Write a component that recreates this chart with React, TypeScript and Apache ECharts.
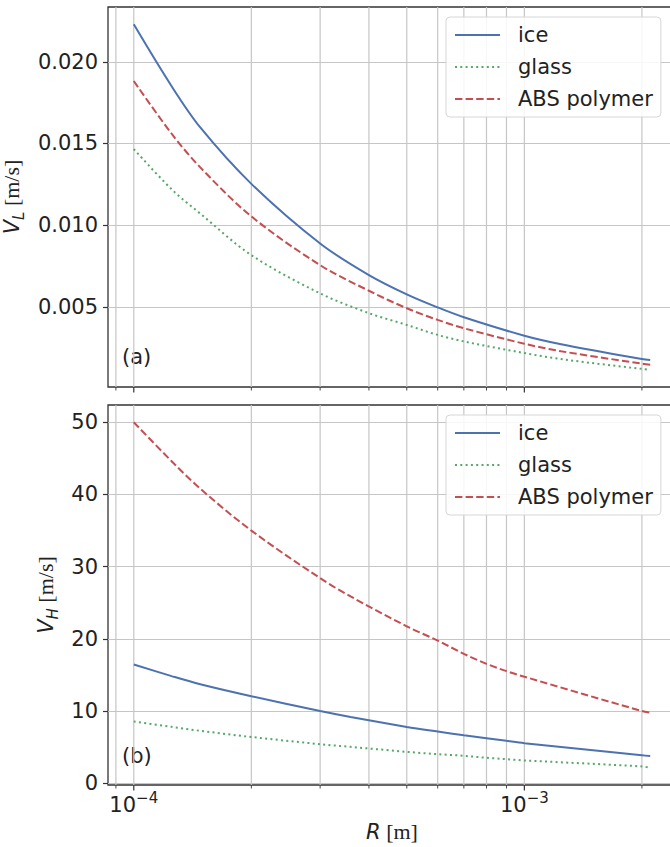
import React, { useEffect, useRef } from "react";
import * as echarts from "echarts";

// ---- data (1.25e-4 values estimated between read points) ----
const rTop = [1e-4, 1.25e-4, 1.48e-4, 2e-4, 3e-4, 4e-4, 5e-4, 6e-4, 7e-4, 1e-3, 1.242e-3, 2e-3, 2.1e-3];
const iceL = [0.02229, 0.0185, 0.01598, 0.01253, 0.00888, 0.00695, 0.00577, 0.00497, 0.00437, 0.00324, 0.00272, 0.00181, 0.00175];
const glassL = [0.01466, 0.0122, 0.01071, 0.00817, 0.00583, 0.00462, 0.0039, 0.00329, 0.00289, 0.00218, 0.00181, 0.00121, 0.00116];
const absL = [0.01882, 0.0156, 0.01354, 0.01054, 0.00756, 0.00599, 0.00492, 0.00421, 0.0037, 0.00275, 0.00229, 0.00153, 0.00147];

const rBot = [1e-4, 1.25e-4, 1.48e-4, 2e-4, 3e-4, 3.59e-4, 5e-4, 6e-4, 7e-4, 8e-4, 9e-4, 1e-3, 2e-3, 2.1e-3];
const iceH = [16.46, 14.85, 13.72, 12.06, 10.01, 9.18, 7.81, 7.17, 6.66, 6.25, 5.88, 5.56, 3.9, 3.77];
const glassH = [8.55, 7.82, 7.27, 6.42, 5.42, 5.05, 4.36, 4.04, 3.81, 3.53, 3.35, 3.17, 2.34, 2.16];
const absH = [50.0, 44.6, 40.8, 35.0, 28.41, 25.88, 21.74, 19.77, 17.93, 16.55, 15.53, 14.76, 10.01, 9.79];

const seriesNames = ["ice", "glass", "ABS polymer"];
const yTicksTop = [0.005, 0.01, 0.015, 0.02];
const yTicksBot = [0, 10, 20, 30, 40, 50];
const xMajor = [1e-4, 1e-3];
const xMinor = [9e-5, 2e-4, 3e-4, 4e-4, 5e-4, 6e-4, 7e-4, 8e-4, 9e-4, 2e-3];

const X_MIN = 8.59e-5;
const X_MAX = 2.445e-3;
const YT_MIN = 0.000103;
const YT_MAX = 0.02335;
const YB_MIN = -0.232;
const YB_MAX = 52.39;

const FONT = "DejaVu Sans";
const C_ICE = "#4C72B0";
const C_GLASS = "#55A868";
const C_ABS = "#C44E52";
const GRID_C = "#c6c6c6";
const SPINE_C = "#333333";

const zip = (xs: number[], ys: number[]) => xs.map((x, i) => [x, ys[i]]);

function gridSeries(xi: number, yBase: number) {
  const data = [
    ...xMajor.map((v) => [v, yBase, 1]),
    ...xMinor.map((v) => [v, yBase, 0]),
  ];
  return {
    type: "custom",
    xAxisIndex: xi,
    yAxisIndex: xi,
    silent: true,
    z: 1,
    data,
    renderItem: (params: any, api: any) => {
      const cs = params.coordSys;
      const px = api.coord([api.value(0), api.value(1)])[0];
      const major = api.value(2) === 1;
      const bottom = cs.y + cs.height;
      return {
        type: "group",
        children: [
          {
            type: "line",
            shape: { x1: px, y1: cs.y, x2: px, y2: bottom },
            style: { stroke: GRID_C, lineWidth: 1.2 },
          },
          {
            type: "line",
            shape: { x1: px, y1: bottom, x2: px, y2: bottom + (major ? 5.5 : 3.5) },
            style: { stroke: SPINE_C, lineWidth: major ? 1.2 : 0.9 },
          },
        ],
      };
    },
  };
}

function lineSeries(idx: number, name: string, xs: number[], ys: number[], color: string, type: any) {
  return {
    type: "line",
    name,
    xAxisIndex: idx,
    yAxisIndex: idx,
    data: zip(xs, ys),
    symbol: "none",
    showSymbol: false,
    smooth: 0.33,
    z: 3,
    itemStyle: { color },
    lineStyle: { color, width: 2, type, cap: "butt" },
  };
}

const legendBase = {
  data: seriesNames,
  orient: "vertical",
  left: 446,
  padding: [6, 8, 6, 8],
  itemWidth: 45,
  itemHeight: 14,
  itemGap: 8,
  selectedMode: false,
  itemStyle: { opacity: 0 },
  backgroundColor: "rgba(255,255,255,0.85)",
  borderColor: "#d6d6d6",
  borderWidth: 1,
  borderRadius: 4,
  textStyle: { fontFamily: FONT, fontSize: 21, color: "#222", lineHeight: 24, padding: [0, 0, 0, 13] },
};

const yNameRich = {
  v: { fontFamily: FONT, fontStyle: "italic", fontSize: 21, color: "#222", verticalAlign: "bottom", padding: [0, 0, 4, 0] },
  s: { fontFamily: FONT, fontStyle: "italic", fontSize: 15, color: "#222", verticalAlign: "bottom" },
  u: { fontFamily: "Liberation Serif", fontSize: 22, color: "#222", verticalAlign: "bottom", padding: [0, 0, 4, 0] },
};

function yAxis(idx: number, min: number, max: number, ticks: number[], fmt: (v: number) => string, name: string, gap: number) {
  return {
    gridIndex: idx,
    type: "value",
    min,
    max,
    axisLine: { show: false },
    axisTick: { show: true, length: 5, lineStyle: { color: SPINE_C, width: 1.2 }, customValues: ticks },
    axisLabel: { customValues: ticks, formatter: fmt, fontFamily: FONT, fontSize: 21, color: "#222", margin: 10 },
    splitLine: { show: true, lineStyle: { color: GRID_C, width: 1.2 } },
    name,
    nameLocation: "middle",
    nameRotate: 90,
    nameGap: gap,
    nameTextStyle: { rich: yNameRich },
  };
}

const gridBase = {
  left: 108,
  width: 568,
  height: 380,
  show: true,
  borderColor: SPINE_C,
  borderWidth: 1.3,
  backgroundColor: "transparent",
  containLabel: false,
  outerBoundsMode: "none",
};

export default function App() {
  const ref = useRef<HTMLDivElement>(null);
  useEffect(() => {
    document.body.style.margin = "0";
    if (!ref.current) return;
    const chart = echarts.init(ref.current, null, { renderer: "svg" });
    const option: any = {
      animation: false,
      textStyle: { fontFamily: FONT },
      grid: [
        { ...gridBase, top: 7 },
        { ...gridBase, top: 405 },
      ],
      xAxis: [
        {
          gridIndex: 0,
          type: "log",
          logBase: 10,
          min: X_MIN,
          max: X_MAX,
          axisLine: { show: false },
          axisTick: { show: false },
          splitLine: { show: false },
          axisLabel: { show: false },
        },
        {
          gridIndex: 1,
          type: "log",
          logBase: 10,
          min: X_MIN,
          max: X_MAX,
          axisLine: { show: false },
          axisTick: { show: false },
          splitLine: { show: false },
          axisLabel: {
            show: true,
            margin: 5,
            showMinLabel: false,
            showMaxLabel: false,
            formatter: (v: number) => {
              const e = Math.log10(v);
              const r = Math.round(e);
              if (Math.abs(e - r) > 1e-6) return "";
              return `{b|10}{s|${r < 0 ? "\u2212" : ""}${Math.abs(r)}}`;
            },
            rich: {
              b: { fontFamily: FONT, fontSize: 21, color: "#222", verticalAlign: "bottom" },
              s: { fontFamily: FONT, fontSize: 15, color: "#222", verticalAlign: "bottom", padding: [0, 0, 10, 0] },
            },
          },
          name: "{r|R}{u| [m]}",
          nameLocation: "middle",
          nameGap: 35,
          nameTextStyle: {
            rich: {
              r: { fontFamily: FONT, fontStyle: "italic", fontSize: 21, color: "#222", verticalAlign: "bottom" },
              u: { fontFamily: "Liberation Serif", fontSize: 22, color: "#222", verticalAlign: "bottom" },
            },
          },
        },
      ],
      yAxis: [
        yAxis(0, YT_MIN, YT_MAX, yTicksTop, (v: number) => v.toFixed(3), "{v|V}{s|L}{u| [m/s]}", 64),
        yAxis(1, YB_MIN, YB_MAX, yTicksBot, (v: number) => String(Math.round(v)), "{v|V}{s|H}{u| [m/s]}", 31),
      ],
      legend: [
        { ...legendBase, top: 17 },
        { ...legendBase, top: 415 },
      ],
      graphic: [
        { type: "text", left: 122, top: 346, style: { text: "(a)", font: `21px '${FONT}'`, fill: "#222" } },
        { type: "text", left: 122, top: 745, style: { text: "(b)", font: `21px '${FONT}'`, fill: "#222" } },
      ],
      series: [
        gridSeries(0, YT_MIN),
        gridSeries(1, YB_MIN),
        lineSeries(0, "ice", rTop, iceL, C_ICE, "solid"),
        lineSeries(0, "glass", rTop, glassL, C_GLASS, [2, 3.3]),
        lineSeries(0, "ABS polymer", rTop, absL, C_ABS, [7.4, 3.2]),
        lineSeries(1, "ice", rBot, iceH, C_ICE, "solid"),
        lineSeries(1, "glass", rBot, glassH, C_GLASS, [2, 3.3]),
        lineSeries(1, "ABS polymer", rBot, absH, C_ABS, [7.4, 3.2]),
      ],
    };
    chart.setOption(option);
    return () => chart.dispose();
  }, []);
  return <div ref={ref} style={{ width: 670, height: 847 }} />;
}
